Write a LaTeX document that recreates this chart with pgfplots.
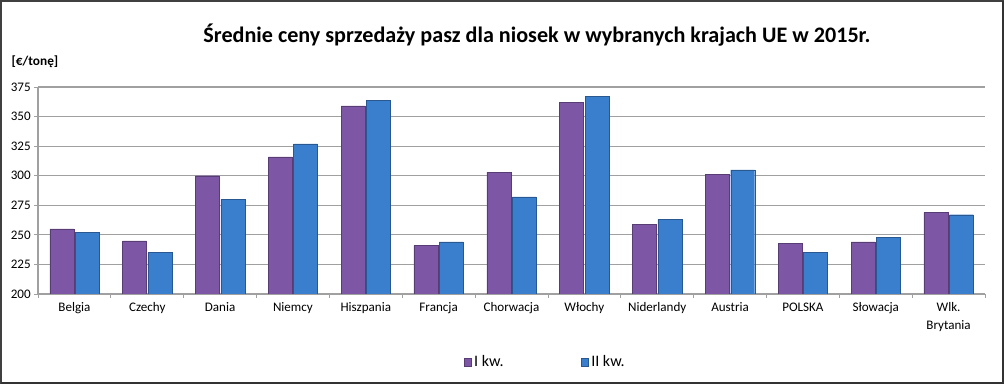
\documentclass[border=0pt]{standalone}
\usepackage{pgfplots}
\pgfplotsset{compat=1.18}
\usepackage{fontspec}
\setmainfont{Carlito}
\definecolor{cI}{RGB}{125,86,166}
\definecolor{cII}{RGB}{58,126,206}
\definecolor{gridc}{RGB}{160,160,160}
\begin{document}
\begin{tikzpicture}
\useasboundingbox (0,0) rectangle (753pt,288pt);
\fill[white] (0,0) rectangle (753pt,288pt);
\draw[black!75, line width=1.2pt] (0.6pt,0.6pt) rectangle (752.4pt,287.4pt);
\draw[black!80, line width=1.8pt] (1pt,0.9pt) -- (752.1pt,0.9pt) -- (752.1pt,287pt);
\node[font=\bfseries\fontsize{16.6}{19}\selectfont] at (402.75pt,261.5pt) {Średnie ceny sprzedaży pasz dla niosek w wybranych krajach UE w 2015r.};
\node[anchor=west, font=\bfseries\fontsize{10}{12}\selectfont, inner sep=0pt] at (8.5pt,241.5pt) {[€/tonę]};
\begin{axis}[
  at={(28.5pt,67.5pt)}, anchor=south west,
  width=710.25pt, height=155.25pt, scale only axis,
  ybar=1pt, bar width=18pt,
  xmin=-0.5, xmax=12.5, ymin=200, ymax=375,
  ytick distance=25,
  xtick={-0.5,0.5,...,12.5},
  xticklabels={},
  extra x ticks={0,...,12},
  extra x tick labels={Belgia,Czechy,Dania,Niemcy,Hiszpania,Francja,Chorwacja,Włochy,Niderlandy,Austria,POLSKA,Słowacja,{Wlk.\\Brytania}},
  extra x tick style={major tick length=0pt, xticklabel style={align=center, font=\fontsize{9.8}{13.5}\selectfont, yshift=-3pt}},
  ymajorgrids,
  grid style={gridc, line width=0.8pt},
  axis x line*=bottom, axis y line*=left,
  axis line style={gridc, line width=0.8pt},
  tick style={gridc, line width=0.6pt},
  tick align=outside, major tick length=3pt,
  /pgf/number format/assume math mode=true,
  yticklabel style={font=\fontsize{9.8}{11}\selectfont, xshift=1pt},
  legend columns=2,
  legend style={draw=none, at={(0.536,-0.33)}, anchor=center, font=\fontsize{12}{14}\selectfont, /tikz/every even column/.append style={column sep=56pt}},
  legend image code/.code={\fill[#1] (0pt,-3pt) rectangle (5.5pt,3pt);},
]
\addplot[fill=cI, draw=cI!70!black, line width=0.3pt] coordinates {(0,255) (1,245) (2,300) (3,316) (4,359) (5,241) (6,303) (7,362) (8,259) (9,301) (10,243) (11,244) (12,269)};
\addplot[fill=cII, draw=cII!70!black, line width=0.3pt] coordinates {(0,252) (1,235) (2,280) (3,327) (4,364) (5,244) (6,282) (7,367) (8,263) (9,305) (10,235) (11,248) (12,267)};
\legend{I kw.,II kw.}
\end{axis}
\end{tikzpicture}
\end{document}
